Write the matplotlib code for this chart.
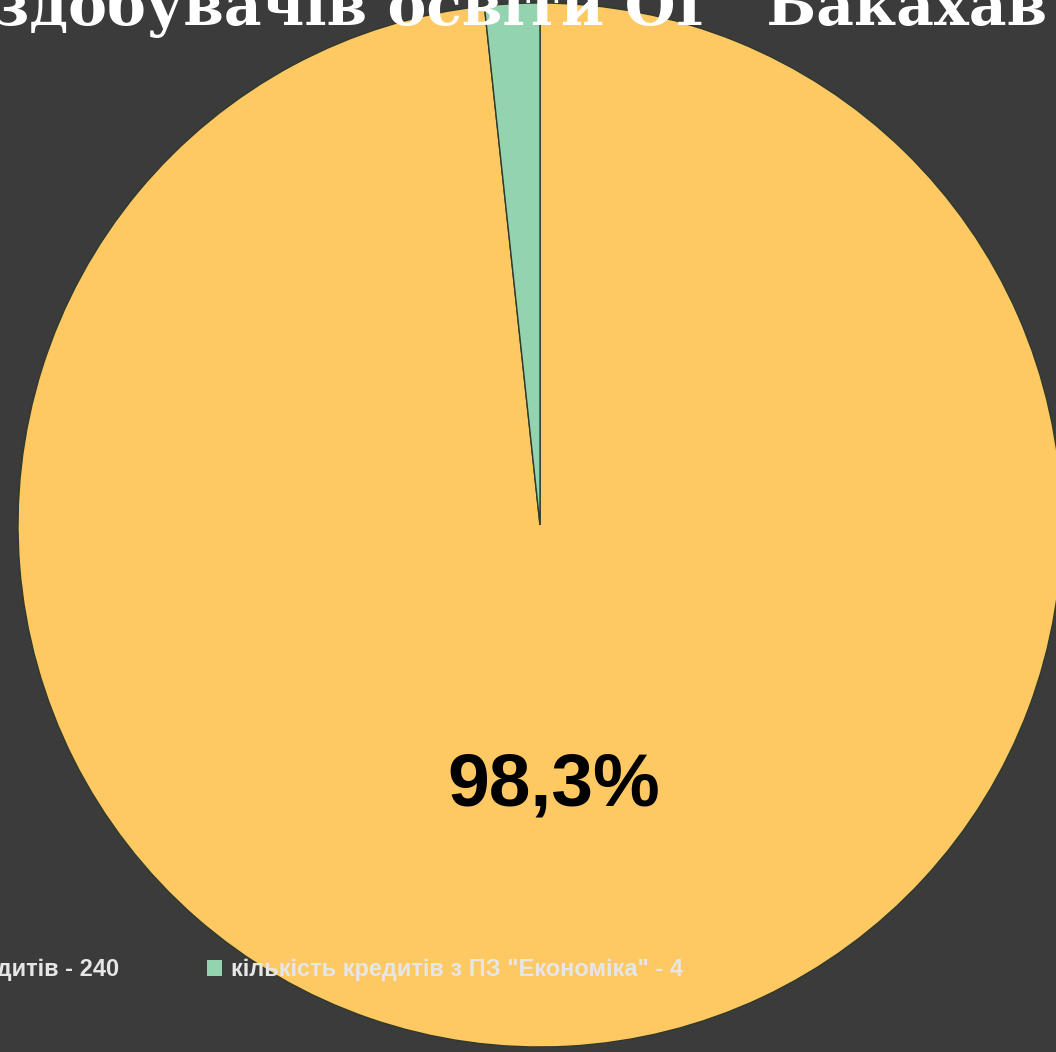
import matplotlib
matplotlib.use("Agg")
import matplotlib.pyplot as plt
from matplotlib.patches import Patch

# shares in percent
labels = ["Кількість кредитів - 240", "кількість кредитів з ПЗ \"Економіка\" - 4"]
shares = [98.3, 1.7]
colors = ["#FEC862", "#94D3AF"]
title = "здобувачів освіти ОГ \"Бакахав"

bg = "#3B3B3B"

fig = plt.figure(figsize=(10.56, 10.52), dpi=100, facecolor=bg)
ax = fig.add_axes([18 / 1056, 5 / 1052, 1044 / 1056, 1044 / 1052])
ax.set_facecolor(bg)


def fmt(p):
    return f"{p:.1f}%".replace(".", ",") if p > 10 else ""


wedges, texts, autotexts = ax.pie(
    shares, colors=colors, startangle=90, counterclock=False,
    autopct=fmt, pctdistance=0.5, radius=1.0,
    wedgeprops=dict(edgecolor="#2f3a2a", linewidth=1.0),
    textprops=dict(fontsize=54, fontweight="bold", color="black",
                   family="Liberation Sans"))
ax.set_xlim(-1, 1)
ax.set_ylim(-1, 1)
ax.set_aspect("equal")
ax.axis("off")

fig.text(-0.008, 0.991, title, ha="left", va="center", color="white",
         fontsize=42, fontweight="bold", family="DejaVu Serif")

handles = [Patch(facecolor=c, edgecolor="none") for c in colors]
fig.legend(handles, labels, loc="center left", bbox_to_anchor=(-0.172, 0.078),
           ncol=2, frameon=False, labelcolor="#E6E6E6",
           handlelength=0.65, handleheight=0.65, handletextpad=0.4,
           columnspacing=3.7, borderpad=0, borderaxespad=0,
           prop=dict(family="Liberation Sans", size=17, weight="bold"))

fig.savefig("out.png", dpi=100, facecolor=bg)
